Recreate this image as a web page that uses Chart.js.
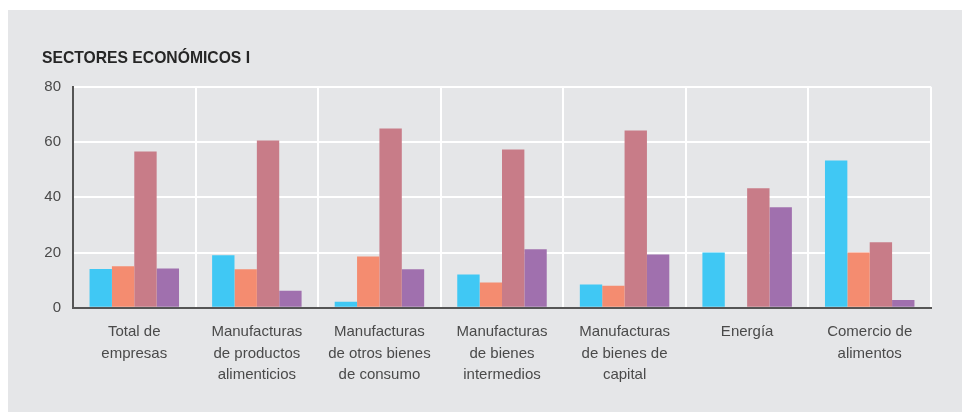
<!DOCTYPE html>
<html>
<head>
<meta charset="utf-8">
<script src="https://cdn.jsdelivr.net/npm/chart.js@4/dist/chart.umd.min.js"></script>
<style>
  html, body { margin: 0; padding: 0; background: #fff; }
  #wrap { position: absolute; left: 8px; top: 10px; width: 954px; height: 402px; background: #e5e6e8; }
</style>
</head>
<body>
<div id="wrap"><canvas id="sectores"></canvas></div>
<script>
var categorias = [
    ['Total de', 'empresas'],
    ['Manufacturas', 'de productos', 'alimenticios'],
    ['Manufacturas', 'de otros bienes', 'de consumo'],
    ['Manufacturas', 'de bienes', 'intermedios'],
    ['Manufacturas', 'de bienes de', 'capital'],
    ['Energía'],
    ['Comercio de', 'alimentos']
];
var serie1 = [14.0, 19.0, 2.2, 12.0, 8.4, 20.0, 53.3];
var serie2 = [15.0, 13.9, 18.6, 9.1, 8.0, null, 20.0];
var serie3 = [56.6, 60.6, 64.9, 57.3, 64.2, 43.3, 23.7];
var serie4 = [14.2, 6.2, 13.9, 21.2, 19.3, 36.4, 2.8];
var ticksY = [0, 20, 40, 60, 80];

var ctx = document.getElementById('sectores');

var myChart = new Chart(ctx, {
    type: 'bar',
    data: {
        labels: categorias,
        datasets: [
            { label: 'Serie 1', data: serie1, backgroundColor: '#40c8f4' },
            { label: 'Serie 2', data: serie2, backgroundColor: '#f48c70' },
            { label: 'Serie 3', data: serie3, backgroundColor: '#c87c88' },
            { label: 'Serie 4', data: serie4, backgroundColor: '#a070ae' }
        ]
    },
    options: {
        responsive: true,
        maintainAspectRatio: false,
        animation: false,
        datasets: {
            bar: { categoryPercentage: 0.73, barPercentage: 1.0 }
        },
        layout: {
            padding: { left: 34, right: 31, top: 0, bottom: 13 }
        },
        plugins: {
            legend: { display: false },
            tooltip: { enabled: false },
            title: {
                display: true,
                align: 'start',
                text: 'SECTORES ECONÓMICOS I',
                color: '#262626',
                font: { family: 'Liberation Sans', size: 15.7, weight: 'bold' },
                padding: { top: 39, bottom: 19 }
            }
        },
        scales: {
            x: {
                z: 1,
                grid: { color: '#ffffff', lineWidth: 2, drawTicks: false, offset: true },
                border: { color: '#555', width: 2 },
                ticks: {
                    color: '#4a4a4a',
                    font: { family: 'Liberation Sans', size: 15, lineHeight: 1.45 },
                    padding: 13,
                    maxRotation: 0,
                    autoSkip: false
                }
            },
            y: {
                min: 0,
                max: 80,
                afterBuildTicks: function (scale) {
                    scale.ticks = ticksY.map(function (v) { return { value: v }; });
                },
                afterFit: function (scale) { scale.width = 31; },
                grid: {
                    color: function (c) { return c.tick && c.tick.value === 0 ? 'rgba(0,0,0,0)' : '#ffffff'; },
                    lineWidth: 2,
                    drawTicks: false
                },
                border: { color: '#555', width: 2 },
                ticks: {
                    color: '#4a4a4a',
                    font: { family: 'Liberation Sans', size: 15 },
                    padding: 12
                }
            }
        }
    }
});
</script>
</body>
</html>
